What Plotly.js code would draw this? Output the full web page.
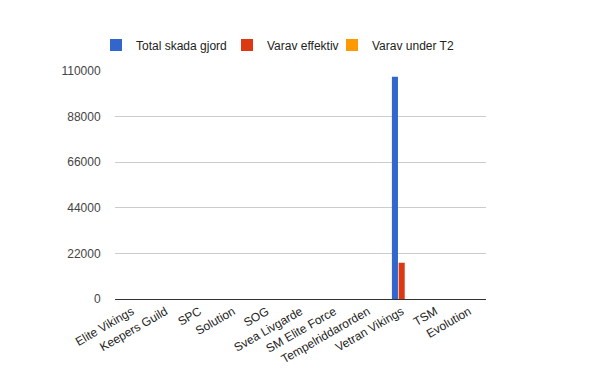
<!DOCTYPE html>
<html><head><meta charset="utf-8">
<script src="https://cdn.plot.ly/plotly-3.0.1.min.js"></script>
<style>html,body{margin:0;padding:0;background:#fff}#c{width:600px;height:371px}</style>
</head><body><div id="c"></div>
<script>
const categories = ["Elite Vikings","Keepers Guild","SPC","Solution","SOG","Svea Livgarde","SM Elite Force","Tempelriddarorden","Vetran Vikings","TSM","Evolution"];
const totalSkada = [0,0,0,0,0,0,0,0,107200,0,0];
const varavEffektiv = [0,0,0,0,0,0,0,0,17500,0,0];
const varavUnderT2 = [0,0,0,0,0,0,0,0,0,0,0];
const seriesNames = ["Total skada gjord","Varav effektiv","Varav under T2"];
const colors = ["#3366cc","#dc3912","#ff9900"];
const yTicks = [0,22000,44000,66000,88000,110000];

const legendIds = ["legend","legend2","legend3"];
const legendX = [-0.0512, 0.3019, 0.5849];
const data = [totalSkada, varavEffektiv, varavUnderT2].map((v,i)=>({
  type:"bar", x:categories, y:v, name:seriesNames[i], marker:{color:colors[i]}, legend:legendIds[i]
}));
const legendBase = (x)=>({orientation:"h", x:x, xanchor:"left", y:1.114, yanchor:"middle",
    font:{size:12, color:"#222"}, bgcolor:"rgba(0,0,0,0)"});
const layout = {
  width:600, height:371,
  margin:{l:115, r:114, t:71, b:72, autoexpand:false},
  paper_bgcolor:"#fff", plot_bgcolor:"#fff",
  font:{family:"Liberation Sans, Arial, sans-serif", size:12, color:"#222"},
  barmode:"group", bargap:0.4, bargroupgap:0.1,
  showlegend:true,
  legend:legendBase(legendX[0]),
  legend2:legendBase(legendX[1]),
  legend3:legendBase(legendX[2]),
  xaxis:{type:"category", tickangle:-30, showgrid:false, showline:true, linecolor:"#333", linewidth:1,
    ticks:"", tickfont:{size:12, color:"#222"}, automargin:false},
  yaxis:{range:[0,110000], tickvals:yTicks, ticktext:yTicks.map(String), showgrid:true, gridcolor:"#cccccc",
    zeroline:true, zerolinecolor:"#333", zerolinewidth:1, showline:false,
    ticks:"outside", ticklen:11, tickcolor:"rgba(0,0,0,0)", tickfont:{size:12, color:"#444"}, automargin:false}
};
Plotly.newPlot("c", data, layout, {displayModeBar:false, staticPlot:true});
</script></body></html>
